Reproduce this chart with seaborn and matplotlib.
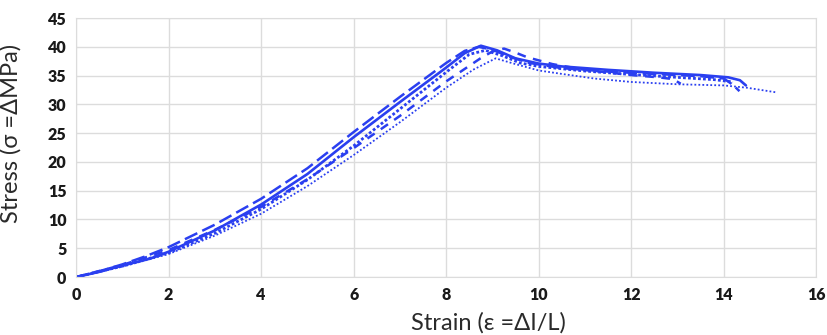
import pandas as pd
import seaborn as sns
import matplotlib.pyplot as plt

# specimen curves (strain, stress)
ld_strain = [0, 0.5, 1, 1.5, 2, 3, 4, 5, 6, 7, 8, 8.4, 8.7, 9.0, 9.4, 9.8, 10.5, 11.5, 12.5, 13.5, 14.0, 14.2, 14.34]
ld_stress = [0, 1.0, 2.2, 3.6, 5.2, 9.1, 13.6, 18.9, 25.2, 31.3, 37.2, 39.3, 40.0, 39.5, 38.2, 37.2, 36.3, 35.7, 35.3, 34.9, 34.5, 33.4, 32.3]

s_strain = [0, 0.5, 1, 1.3, 1.6, 2, 3, 4, 5, 6, 7, 8, 8.4, 8.75, 9.1, 9.5, 10, 10.5, 11.5, 12.5, 13.5, 14.1, 14.35, 14.48]
s_stress = [0, 0.9, 2.0, 2.6, 3.2, 4.4, 8.1, 12.6, 17.9, 24.3, 30.4, 36.4, 38.9, 40.2, 39.4, 38.0, 37.1, 36.6, 36.0, 35.5, 35.1, 34.7, 34.2, 33.3]

sd_strain = [0, 1, 2, 3, 4, 5, 6, 7, 8, 8.5, 8.85, 9.2, 9.6, 10, 11, 12, 13, 13.8, 14.2]
sd_stress = [0, 1.9, 4.2, 7.6, 11.8, 16.9, 22.8, 29.2, 35.6, 38.7, 39.4, 38.5, 37.2, 36.6, 35.8, 35.2, 34.7, 34.3, 33.9]

md_strain = [0, 1, 2, 3, 4, 5, 6, 7, 8, 8.74, 9.0, 9.25, 9.5, 9.75, 10.3, 11, 12, 12.6, 12.9, 13.07]
md_stress = [0, 2.1, 4.7, 8.2, 12.2, 17.0, 22.4, 28.0, 34.0, 38.0, 39.2, 39.7, 39.0, 38.2, 37.0, 36.0, 35.1, 34.7, 34.4, 33.6]

dot_strain = [0, 1, 2, 3, 4, 5, 6, 7, 8, 8.6, 9.07, 9.5, 10, 10.5, 11.2, 12, 13, 14, 14.5, 15.13]
dot_stress = [0, 1.8, 4.0, 7.2, 11.0, 15.8, 21.2, 26.9, 32.9, 36.1, 38.0, 37.0, 35.9, 35.3, 34.5, 33.9, 33.5, 33.3, 32.9, 32.1]

curves = {
    'S1': (ld_strain, ld_stress),
    'S2': (s_strain, s_stress),
    'S3': (sd_strain, sd_stress),
    'S4': (md_strain, md_stress),
    'S5': (dot_strain, dot_stress),
}
frames = []
for name, (x, y) in curves.items():
    frames.append(pd.DataFrame({'strain': x, 'stress': y, 'specimen': name}))
df = pd.concat(frames, ignore_index=True)

sns.set_style('whitegrid')
plt.rcParams['font.family'] = ['Lato', 'DejaVu Sans']

blue = '#2a3ff0'
fig = plt.figure(figsize=(8.27, 3.35), dpi=100)
ax = fig.add_axes([0.092, 0.173, 0.895, 0.773])

dashes = {'S1': (5.5, 2.2), 'S2': '', 'S3': (1, 0.8), 'S4': (3.5, 3), 'S5': (1, 1.2)}
sns.lineplot(data=df, x='strain', y='stress', hue='specimen', style='specimen',
             palette=[blue] * 5, dashes=dashes, sort=False, estimator=None,
             legend=False, ax=ax, linewidth=1.8)
for line, lw in zip(ax.get_lines(), [1.8, 1.9, 2.0, 1.8, 1.3]):
    line.set_linewidth(lw)

ax.set_xlim(0, 16)
ax.set_ylim(0, 45)
ax.set_xticks(range(0, 17, 2))
ax.set_yticks(range(0, 46, 5))
ax.grid(color='#dcdcdc', linewidth=1)
for sp in ax.spines.values():
    sp.set_color('#dcdcdc')
ax.tick_params(length=0, labelsize=11.5, pad=7, labelcolor='#1a1a1a')
for t in ax.get_xticklabels() + ax.get_yticklabels():
    t.set_fontweight('heavy')

ax.set_xlabel('Strain (ε =ΔI/L)', fontsize=17, color='#2a2a2a')
ax.set_ylabel('Stress (σ =ΔMPa)', fontsize=17, color='#2a2a2a')
ax.xaxis.set_label_coords(0.557, -0.135)
ax.yaxis.set_label_coords(-0.073, 0.556)

plt.savefig('out.png', dpi=100)
